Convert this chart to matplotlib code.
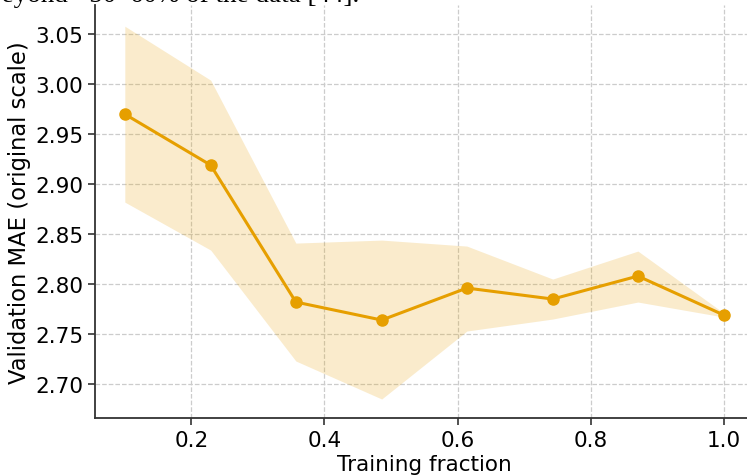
import matplotlib
matplotlib.use("Agg")
import matplotlib.pyplot as plt

# training fraction vs validation MAE, mean and spread over runs
frac = [0.1, 0.229, 0.357, 0.486, 0.614, 0.743, 0.871, 1.0]
mae_mean = [2.970, 2.919, 2.782, 2.764, 2.796, 2.785, 2.808, 2.769]
mae_low = [2.882, 2.834, 2.723, 2.685, 2.753, 2.765, 2.782, 2.767]
mae_high = [3.058, 3.004, 2.841, 2.844, 2.838, 2.805, 2.833, 2.771]

col = "#E69F00"

fig = plt.figure(figsize=(7.47, 4.77), dpi=100)
ax = fig.add_axes([0.127, 0.1216, 0.882, 0.8654])

ax.fill_between(frac, mae_low, mae_high, color=col, alpha=0.2, linewidth=0)
ax.plot(frac, mae_mean, marker="o", markersize=8, linewidth=2.2, color=col)

ax.set_xlim(0.055, 1.045)
ax.set_ylim(2.666, 3.079)
ax.set_xticks([0.2, 0.4, 0.6, 0.8, 1.0])
ax.set_yticks([2.70, 2.75, 2.80, 2.85, 2.90, 2.95, 3.00, 3.05])
ax.yaxis.set_major_formatter(matplotlib.ticker.FormatStrFormatter("%.2f"))

ax.set_xlabel("Training fraction", fontsize=15.5, labelpad=3)
ax.set_ylabel("Validation MAE (original scale)", fontsize=16.3, labelpad=2.5)
ax.tick_params(labelsize=15.5, length=5, width=1.2, color="#333333")
ax.grid(True, linestyle="--", color="#cccccc", linewidth=0.9)
ax.set_axisbelow(True)

for s in ["top", "right"]:
    ax.spines[s].set_visible(False)
for s in ["left", "bottom"]:
    ax.spines[s].set_linewidth(1.3)
    ax.spines[s].set_color("#333333")

# tail of the paragraph above the figure
fig.text(-0.016, 1 - 2 / 477, "beyond ~50\u201360% of the data [44].",
         family="Liberation Serif", fontsize=19.5, va="baseline")

fig.savefig("out.png", dpi=100)
